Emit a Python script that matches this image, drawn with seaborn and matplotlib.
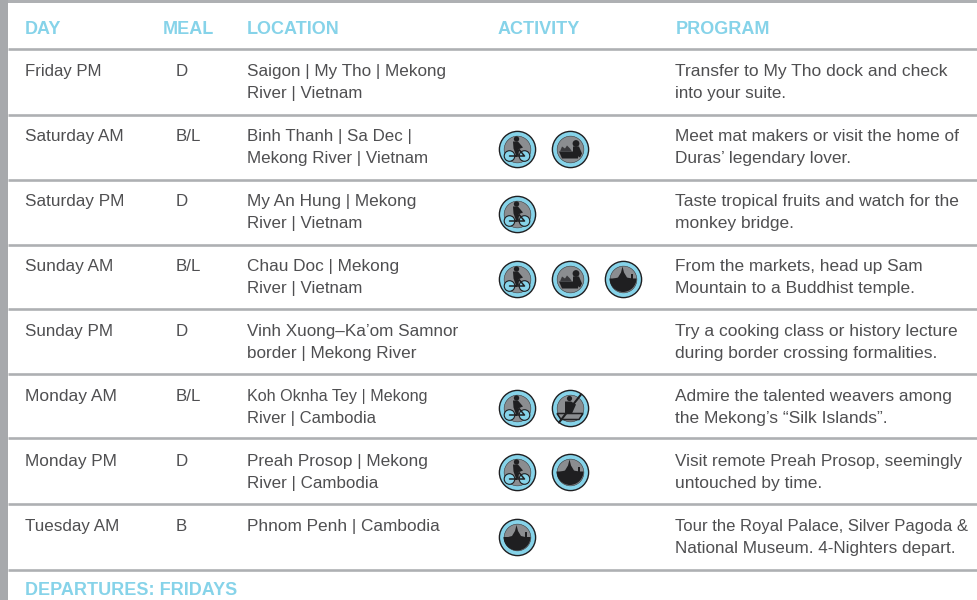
import pandas as pd
import matplotlib
matplotlib.use('Agg')
import matplotlib.pyplot as plt
from matplotlib.patches import Circle, Polygon, Rectangle, Wedge
import seaborn as sns

days = ['Friday PM', 'Saturday AM', 'Saturday PM', 'Sunday AM', 'Sunday PM',
        'Monday AM', 'Monday PM', 'Tuesday AM']
meals = ['D', 'B/L', 'D', 'B/L', 'D', 'B/L', 'D', 'B']
locations = ['Saigon | My Tho | Mekong\nRiver | Vietnam',
             'Binh Thanh | Sa Dec |\nMekong River | Vietnam',
             'My An Hung | Mekong\nRiver | Vietnam',
             'Chau Doc | Mekong\nRiver | Vietnam',
             'Vinh Xuong\u2013Ka\u2019om Samnor\nborder | Mekong River',
             'Koh Oknha Tey | Mekong\nRiver | Cambodia',
             'Preah Prosop | Mekong\nRiver | Cambodia',
             'Phnom Penh | Cambodia']
activities = [[], ['bike', 'food'], ['bike'], ['bike', 'food', 'temple'], [],
              ['bike', 'kayak'], ['bike', 'temple'], ['temple']]
programs = ['Transfer to My Tho dock and check\ninto your suite.',
            'Meet mat makers or visit the home of\nDuras\u2019 legendary lover.',
            'Taste tropical fruits and watch for the\nmonkey bridge.',
            'From the markets, head up Sam\nMountain to a Buddhist temple.',
            'Try a cooking class or history lecture\nduring border crossing formalities.',
            'Admire the talented weavers among\nthe Mekong\u2019s \u201cSilk Islands\u201d.',
            'Visit remote Preah Prosop, seemingly\nuntouched by time.',
            'Tour the Royal Palace, Silver Pagoda &\nNational Museum. 4-Nighters depart.']
headers = ['DAY', 'MEAL', 'LOCATION', 'ACTIVITY', 'PROGRAM']
footer = 'DEPARTURES: FRIDAYS'

# layout in pixels
header_x = [25, 163, 247, 498, 676]
rules = [49, 115, 180, 245, 309, 374, 438, 503.5, 570]
slot_x = [517, 570, 623]
# right end of each text line, the original has its own tracking per line
day_ends = [101, 124, 124, 113, 113, 117, 117, 119]
location_ends = [[447, 362], [412, 428], [417, 362], [399, 362],
                 [459, 417], [428, 376], [428, 379], [440]]
program_ends = [[947, 786], [960, 851], [959, 794], [922, 915],
                [957, 938], [952, 887], [962, 822], [967, 954]]
GREY = '#aeb0b3'
BLUE = '#86d3e9'
INK = '#4f4f51'
DARK = '#1f1f21'
MID = '#8b8d90'

sns.set_style('white')
plt.rcParams['font.family'] = ['Liberation Sans', 'DejaVu Sans']

fig = plt.figure(figsize=(9.77, 6.0), dpi=100)
ax = fig.add_axes([0, 0, 1, 1])
ax.set_xlim(0, 977)
ax.set_ylim(600, 0)
ax.axis('off')
renderer = fig.canvas.get_renderer()

ax.add_patch(Rectangle((0, 0), 7.5, 600, color='#a7a9ac', lw=0))
ax.add_patch(Rectangle((7.5, 0), 970, 2.5, color=GREY, lw=0))
for y in rules:
    ax.plot([7.5, 977], [y, y], color=GREY, lw=1.9, solid_capstyle='butt')

for x, h in zip(header_x, headers):
    ax.text(x, 34, h, color=BLUE, fontsize=13, fontweight='bold', va='baseline', ha='left')
ax.text(25, 595, footer, color=BLUE, fontsize=13, fontweight='bold', va='baseline', ha='left')


def fitted_text(x, y, s, end):
    t = ax.text(x, y, s, color=INK, fontsize=12.2, va='baseline', ha='left')
    w = t.get_window_extent(renderer).width
    t.set_fontsize(12.2 * (end - x) / w)


for i in range(len(days)):
    y = 76 + 65 * i
    fitted_text(25, y, days[i], day_ends[i])
    ax.text(175.5, y, meals[i], color=INK, fontsize=12.2, va='baseline', ha='left')
    for j, line in enumerate(locations[i].split('\n')):
        fitted_text(247.3, y + j * 21.8, line, location_ends[i][j])
    for j, line in enumerate(programs[i].split('\n')):
        fitted_text(675, y + j * 21.8, line, program_ends[i][j])

rows = []
for i, acts in enumerate(activities):
    for k, a in enumerate(acts):
        rows.append({'x': slot_x[k], 'y': rules[i] + 33.5, 'kind': a})
icons = pd.DataFrame(rows)


def draw_bike(cx, cy):
    for dx in (-7.5, 7.5):
        ax.add_patch(Circle((cx + dx, cy + 7.5), 5.3, fc=BLUE, ec=DARK, lw=0.8, zorder=5))
    ax.plot([cx - 7.5, cx - 1, cx + 7.5, cx + 2, cx - 1],
            [cy + 7.5, cy + 7.5, cy + 7.5, cy + 1, cy + 7.5], color=DARK, lw=1.1, zorder=6)
    ax.add_patch(Circle((cx - 0.5, cy - 9.5), 2.7, color=DARK, lw=0, zorder=6))
    ax.add_patch(Polygon([(cx - 4, cy - 7), (cx + 1, cy - 7), (cx + 6, cy - 1), (cx + 1, cy + 1),
                          (cx + 2, cy + 7), (cx - 1, cy + 7), (cx - 3.5, cy)], color=DARK, lw=0, zorder=6))


def draw_food(cx, cy):
    ax.add_patch(Circle((cx + 6, cy - 5), 3.4, color=DARK, lw=0, zorder=5))
    ax.add_patch(Polygon([(cx + 3, cy - 2), (cx + 9, cy - 2), (cx + 12, cy + 5), (cx + 10, cy + 9),
                          (cx + 3, cy + 4)], color=DARK, lw=0, zorder=5))
    ax.add_patch(Polygon([(cx - 11, cy + 3), (cx + 9, cy + 3), (cx + 8, cy + 10), (cx - 8, cy + 10)],
                         color=DARK, lw=0, zorder=5))
    ax.add_patch(Polygon([(cx - 10, cy + 3), (cx - 8, cy - 2), (cx - 5, cy), (cx - 3, cy - 3),
                          (cx, cy), (cx + 2, cy + 3)], color='#3a3a3d', lw=0, zorder=5))


def draw_temple(cx, cy):
    ax.add_patch(Wedge((cx, cy), 13.5, 0, 180, color=DARK, lw=0, zorder=5))
    ax.add_patch(Polygon([(cx - 12.5, cy + 1), (cx - 5, cy - 1), (cx - 2, cy - 6), (cx - 0.5, cy - 12),
                          (cx + 1, cy - 6), (cx + 4, cy - 1), (cx + 12.5, cy + 1)],
                         color=DARK, lw=0, zorder=5))
    ax.add_patch(Rectangle((cx + 8, cy - 5), 2, 6, color=DARK, lw=0, zorder=5))


def draw_kayak(cx, cy):
    ax.add_patch(Polygon([(cx - 13, cy + 6), (cx + 13, cy + 6), (cx + 9, cy + 12), (cx - 9, cy + 12)],
                         fc=MID, ec=DARK, lw=1.1, zorder=5))
    ax.plot([cx - 11, cx + 11], [cy + 15, cy - 13], color=DARK, lw=1.5, zorder=6)
    ax.add_patch(Circle((cx - 0.5, cy - 9), 2.6, color=DARK, lw=0, zorder=6))
    ax.add_patch(Polygon([(cx - 5, cy - 6), (cx + 1, cy - 6), (cx + 6, cy - 3), (cx + 2, cy + 6),
                          (cx - 5, cy + 6)], color=DARK, lw=0, zorder=6))


draw = {'bike': draw_bike, 'food': draw_food, 'temple': draw_temple, 'kayak': draw_kayak}

# badge: dark edge, blue ring, grey inner disc
sns.scatterplot(data=icons, x='x', y='y', s=680, color=BLUE, edgecolor=DARK, linewidth=1.0,
                ax=ax, legend=False, zorder=3)
sns.scatterplot(data=icons, x='x', y='y', s=370, color=MID, edgecolor='#3a3a3d', linewidth=0.4,
                ax=ax, legend=False, zorder=4)
for _, r in icons.iterrows():
    draw[r['kind']](r['x'], r['y'])

ax.set_xlim(0, 977)
ax.set_ylim(600, 0)
ax.axis('off')
fig.savefig('out.png', dpi=100)
